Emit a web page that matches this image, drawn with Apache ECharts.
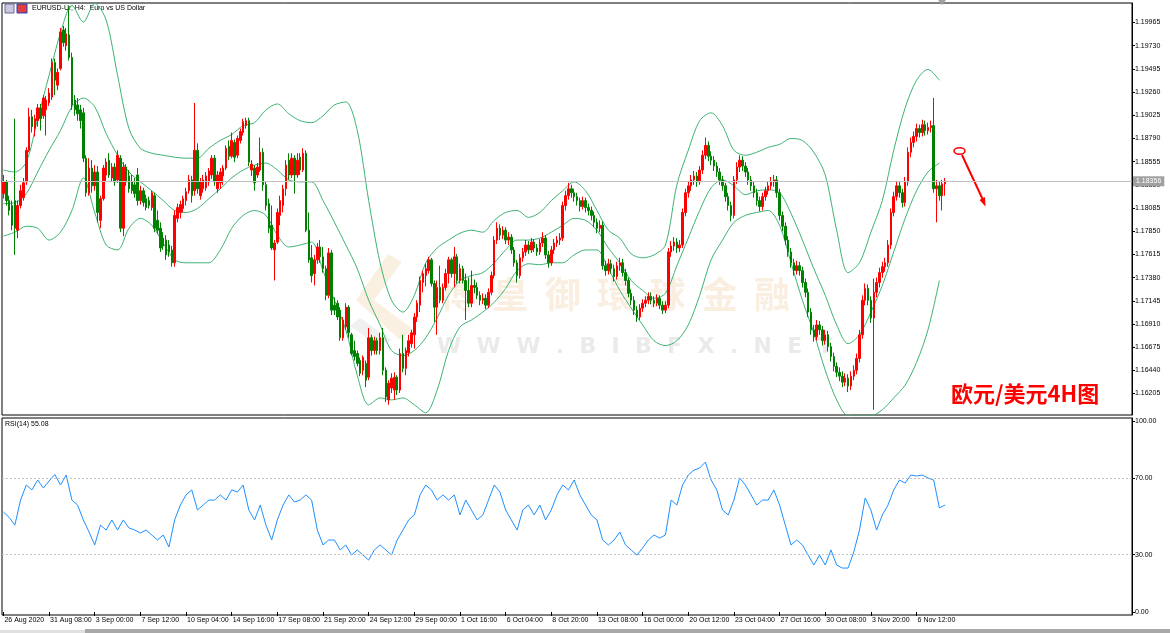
<!DOCTYPE html>
<html><head><meta charset="utf-8">
<script src="https://cdn.jsdelivr.net/npm/echarts@6/dist/echarts.min.js"></script>
<style>html,body{margin:0;padding:0;background:#fff}#c{width:1170px;height:633px}</style>
</head><body><div id="c"></div>
<script>
const timeLabels = ["26 Aug 2020","31 Aug 08:00","3 Sep 00:00","7 Sep 12:00","10 Sep 04:00","14 Sep 16:00","17 Sep 08:00","21 Sep 20:00","24 Sep 12:00","29 Sep 00:00","1 Oct 16:00","6 Oct 04:00","8 Oct 20:00","13 Oct 08:00","16 Oct 00:00","20 Oct 12:00","23 Oct 04:00","27 Oct 16:00","30 Oct 08:00","3 Nov 20:00","6 Nov 12:00"];
const priceTicks = [1.16205,1.16440,1.16675,1.16910,1.17145,1.17380,1.17615,1.17850,1.18085,1.18320,1.18555,1.18790,1.19025,1.19260,1.19495,1.19730,1.19965];
const rsiTicks = [0,30,70,100];
const rsiLevels = [30,70];
const lastPrice = 1.18356;
const rsiLast = "55.08";

// [open, close, low, high]
const candles = [
[1.1823,1.1835,1.1818,1.1842],[1.1835,1.1816,1.1811,1.1837],[1.1816,1.1806,1.1801,1.1821],[1.1811,1.1791,1.1786,1.1816],[1.1816,1.1788,1.1761,1.1899],
[1.1786,1.1811,1.1778,1.1816],[1.1811,1.1826,1.1808,1.1832],[1.1819,1.1834,1.1816,1.1839],[1.1835,1.1867,1.1832,1.1870],[1.1867,1.1901,1.1865,1.1910],
[1.1901,1.1891,1.1885,1.1908],[1.1889,1.1899,1.1881,1.1903],[1.1897,1.1910,1.1891,1.1914],[1.1910,1.1899,1.1887,1.1914],[1.1902,1.1920,1.1899,1.1923],
[1.1908,1.1918,1.1882,1.1922],[1.1915,1.1925,1.1912,1.1930],[1.1921,1.1956,1.1918,1.1960],[1.1956,1.1938,1.1923,1.1960],[1.1933,1.1946,1.1928,1.1950],
[1.1950,1.1987,1.1948,1.1991],[1.1989,1.1976,1.1972,1.1993],[1.1973,1.1985,1.1968,1.1991],[1.1984,1.1961,1.1958,1.2013],[1.1961,1.1913,1.1908,1.1966],
[1.1918,1.1908,1.1902,1.1923],[1.1913,1.1904,1.1897,1.1920],[1.1908,1.1897,1.1889,1.1913],[1.1905,1.1859,1.1855,1.1910],[1.1859,1.1824,1.1820,1.1862],
[1.1824,1.1849,1.1821,1.1859],[1.1849,1.1831,1.1824,1.1857],[1.1831,1.1845,1.1826,1.1852],
[1.1845,1.1804,1.1794,1.1851],[1.1796,1.1818,1.1788,1.1821],[1.1818,1.1849,1.1816,1.1852],[1.1842,1.1855,1.1835,1.1859],[1.1857,1.1842,1.1839,1.1864],
[1.1839,1.1850,1.1835,1.1854],[1.1850,1.1835,1.1831,1.1854],[1.1837,1.1862,1.1834,1.1867],[1.1859,1.1788,1.1784,1.1862],[1.1788,1.1850,1.1780,1.1855],
[1.1850,1.1835,1.1831,1.1853],[1.1841,1.1828,1.1824,1.1847],[1.1835,1.1826,1.1823,1.1842],[1.1832,1.1823,1.1819,1.1839],[1.1842,1.1816,1.1811,1.1849],
[1.1816,1.1826,1.1812,1.1831],[1.1826,1.1814,1.1810,1.1829],[1.1818,1.1809,1.1806,1.1822],[1.1816,1.1811,1.1808,1.1820],[1.1809,1.1824,1.1806,1.1826],
[1.1821,1.1788,1.1784,1.1824],[1.1796,1.1786,1.1782,1.1806],[1.1788,1.1768,1.1764,1.1794],[1.1778,1.1770,1.1766,1.1784],[1.1776,1.1761,1.1756,1.1781],
[1.1771,1.1764,1.1759,1.1776],[1.1766,1.1753,1.1749,1.1770],[1.1753,1.1801,1.1749,1.1806],[1.1798,1.1809,1.1794,1.1813],[1.1804,1.1812,1.1798,1.1816],
[1.1808,1.1818,1.1804,1.1821],[1.1816,1.1825,1.1811,1.1829],[1.1826,1.1837,1.1823,1.1842],
[1.1837,1.1821,1.1814,1.1841],[1.1826,1.1867,1.1821,1.1915],[1.1867,1.1828,1.1823,1.1874],[1.1821,1.1835,1.1817,1.1839],[1.1828,1.1837,1.1824,1.1842],
[1.1829,1.1841,1.1826,1.1845],[1.1835,1.1846,1.1831,1.1849],[1.1842,1.1859,1.1838,1.1862],[1.1859,1.1835,1.1831,1.1862],[1.1828,1.1842,1.1824,1.1846],
[1.1834,1.1845,1.1828,1.1849],[1.1841,1.1849,1.1832,1.1852],[1.1849,1.1869,1.1847,1.1872],[1.1871,1.1861,1.1857,1.1877],[1.1861,1.1877,1.1859,1.1885],
[1.1875,1.1860,1.1855,1.1878],[1.1862,1.1879,1.1859,1.1882],[1.1877,1.1886,1.1874,1.1889],[1.1885,1.1896,1.1882,1.1899],[1.1892,1.1897,1.1889,1.1900],
[1.1897,1.1855,1.1851,1.1900],[1.1847,1.1853,1.1841,1.1857],[1.1849,1.1834,1.1826,1.1852],[1.1842,1.1850,1.1839,1.1854],[1.1847,1.1865,1.1845,1.1880],
[1.1865,1.1832,1.1826,1.1869],[1.1832,1.1811,1.1806,1.1835],[1.1813,1.1788,1.1783,1.1818],[1.1791,1.1768,1.1766,1.1811],[1.1766,1.1773,1.1735,1.1776],
[1.1774,1.1804,1.1772,1.1808],[1.1801,1.1816,1.1791,1.1821],[1.1811,1.1828,1.1804,1.1832],
[1.1828,1.1852,1.1821,1.1857],[1.1857,1.1842,1.1837,1.1864],[1.1842,1.1859,1.1839,1.1864],[1.1859,1.1842,1.1823,1.1862],[1.1842,1.1857,1.1839,1.1864],
[1.1860,1.1847,1.1842,1.1864],[1.1847,1.1864,1.1845,1.1869],[1.1864,1.1786,1.1784,1.1867],[1.1786,1.1756,1.1753,1.1804],[1.1758,1.1740,1.1733,1.1771],
[1.1742,1.1756,1.1730,1.1761],[1.1756,1.1769,1.1752,1.1773],[1.1769,1.1759,1.1753,1.1776],[1.1759,1.1747,1.1743,1.1769],[1.1747,1.1720,1.1715,1.1750],
[1.1720,1.1763,1.1717,1.1768],[1.1763,1.1705,1.1700,1.1766],[1.1710,1.1705,1.1700,1.1718],[1.1712,1.1698,1.1695,1.1715],[1.1705,1.1677,1.1674,1.1708],
[1.1677,1.1695,1.1674,1.1698],[1.1688,1.1708,1.1685,1.1712],[1.1708,1.1682,1.1677,1.1710],[1.1680,1.1661,1.1659,1.1682],[1.1664,1.1658,1.1654,1.1674],
[1.1661,1.1651,1.1648,1.1664],[1.1654,1.1641,1.1638,1.1657],[1.1644,1.1657,1.1639,1.1659],[1.1651,1.1634,1.1627,1.1654],[1.1637,1.1677,1.1634,1.1687],
[1.1677,1.1664,1.1659,1.1680],[1.1664,1.1674,1.1660,1.1678],[1.1674,1.1664,1.1660,1.1677],
[1.1664,1.1677,1.1660,1.1682],[1.1677,1.1644,1.1639,1.1687],[1.1644,1.1617,1.1612,1.1647],[1.1614,1.1631,1.1609,1.1634],[1.1626,1.1636,1.1621,1.1641],
[1.1624,1.1637,1.1614,1.1642],[1.1637,1.1624,1.1619,1.1639],[1.1624,1.1661,1.1621,1.1666],[1.1661,1.1646,1.1642,1.1680],[1.1646,1.1664,1.1639,1.1667],
[1.1662,1.1674,1.1658,1.1680],[1.1671,1.1682,1.1667,1.1685],[1.1680,1.1698,1.1666,1.1702],[1.1698,1.1712,1.1693,1.1715],[1.1710,1.1735,1.1703,1.1739],
[1.1733,1.1742,1.1723,1.1745],[1.1740,1.1747,1.1729,1.1752],[1.1745,1.1756,1.1742,1.1759],[1.1756,1.1732,1.1729,1.1758],[1.1732,1.1708,1.1693,1.1735],
[1.1708,1.1728,1.1680,1.1735],[1.1728,1.1715,1.1712,1.1750],[1.1715,1.1728,1.1712,1.1732],[1.1728,1.1742,1.1725,1.1747],[1.1742,1.1756,1.1732,1.1759],
[1.1756,1.1742,1.1738,1.1758],[1.1742,1.1759,1.1728,1.1769],[1.1759,1.1735,1.1732,1.1762],[1.1735,1.1747,1.1732,1.1752],[1.1747,1.1735,1.1732,1.1750],
[1.1735,1.1725,1.1695,1.1742],[1.1725,1.1712,1.1708,1.1738],[1.1712,1.1730,1.1708,1.1745],
[1.1730,1.1728,1.1722,1.1736],[1.1728,1.1720,1.1716,1.1733],[1.1720,1.1715,1.1710,1.1724],[1.1715,1.1717,1.1711,1.1722],[1.1717,1.1710,1.1706,1.1721],
[1.1710,1.1723,1.1707,1.1727],[1.1723,1.1740,1.1720,1.1744],[1.1740,1.1776,1.1737,1.1780],[1.1776,1.1788,1.1772,1.1794],[1.1788,1.1781,1.1776,1.1792],
[1.1781,1.1786,1.1777,1.1790],[1.1786,1.1776,1.1772,1.1789],[1.1776,1.1779,1.1771,1.1784],[1.1779,1.1766,1.1762,1.1782],[1.1766,1.1753,1.1749,1.1769],
[1.1753,1.1740,1.1733,1.1756],[1.1740,1.1758,1.1737,1.1762],[1.1758,1.1764,1.1754,1.1768],[1.1764,1.1771,1.1760,1.1776],[1.1771,1.1766,1.1762,1.1775],
[1.1766,1.1774,1.1763,1.1778],[1.1774,1.1768,1.1764,1.1777],[1.1768,1.1764,1.1760,1.1772],[1.1764,1.1773,1.1761,1.1777],[1.1773,1.1778,1.1769,1.1784],
[1.1778,1.1761,1.1757,1.1781],[1.1761,1.1753,1.1748,1.1765],[1.1753,1.1766,1.1750,1.1770],[1.1766,1.1773,1.1762,1.1777],[1.1773,1.1776,1.1769,1.1780],
[1.1776,1.1778,1.1771,1.1783],[1.1778,1.1811,1.1775,1.1815],[1.1811,1.1821,1.1806,1.1826],[1.1821,1.1828,1.1817,1.1834],[1.1828,1.1824,1.1819,1.1832],
[1.1824,1.1820,1.1815,1.1828],[1.1820,1.1816,1.1811,1.1824],[1.1816,1.1810,1.1805,1.1819],[1.1810,1.1816,1.1807,1.1820],[1.1816,1.1809,1.1804,1.1819],
[1.1809,1.1806,1.1801,1.1813],[1.1806,1.1801,1.1796,1.1810],[1.1801,1.1794,1.1789,1.1805],[1.1794,1.1788,1.1783,1.1798],[1.1788,1.1791,1.1784,1.1796],
[1.1791,1.1750,1.1746,1.1795],[1.1750,1.1745,1.1740,1.1755],[1.1745,1.1752,1.1741,1.1757],[1.1752,1.1747,1.1742,1.1756],[1.1747,1.1739,1.1734,1.1751],
[1.1739,1.1750,1.1736,1.1754],[1.1750,1.1753,1.1745,1.1758],[1.1753,1.1743,1.1739,1.1757],[1.1743,1.1735,1.1730,1.1747],[1.1735,1.1722,1.1718,1.1738],
[1.1722,1.1715,1.1710,1.1726],[1.1715,1.1705,1.1700,1.1719],[1.1705,1.1698,1.1693,1.1709],[1.1698,1.1707,1.1695,1.1711],[1.1707,1.1712,1.1703,1.1716],
[1.1712,1.1715,1.1708,1.1719],[1.1715,1.1719,1.1711,1.1723],[1.1719,1.1715,1.1711,1.1723],[1.1715,1.1712,1.1708,1.1719],[1.1712,1.1717,1.1709,1.1721],
[1.1717,1.1710,1.1706,1.1720],[1.1710,1.1705,1.1701,1.1714],[1.1705,1.1710,1.1702,1.1714],[1.1710,1.1764,1.1707,1.1768],[1.1764,1.1770,1.1759,1.1775],
[1.1770,1.1774,1.1765,1.1779],[1.1774,1.1768,1.1763,1.1778],[1.1768,1.1771,1.1764,1.1776],[1.1771,1.1804,1.1768,1.1808],[1.1804,1.1824,1.1800,1.1828],
[1.1824,1.1831,1.1819,1.1836],[1.1831,1.1837,1.1826,1.1842],[1.1837,1.1841,1.1832,1.1846],[1.1841,1.1835,1.1830,1.1845],[1.1835,1.1847,1.1832,1.1851],
[1.1847,1.1862,1.1843,1.1867],[1.1862,1.1872,1.1858,1.1880],[1.1872,1.1861,1.1856,1.1876],[1.1861,1.1857,1.1852,1.1866],[1.1857,1.1851,1.1846,1.1861],
[1.1851,1.1845,1.1840,1.1855],[1.1845,1.1837,1.1832,1.1849],[1.1837,1.1831,1.1826,1.1841],[1.1831,1.1820,1.1815,1.1834],[1.1820,1.1811,1.1806,1.1824],
[1.1811,1.1801,1.1795,1.1815],[1.1801,1.1837,1.1798,1.1841],[1.1837,1.1850,1.1833,1.1855],[1.1850,1.1857,1.1845,1.1862],[1.1857,1.1851,1.1846,1.1861],
[1.1851,1.1845,1.1840,1.1855],[1.1845,1.1837,1.1832,1.1849],[1.1837,1.1831,1.1826,1.1841],[1.1831,1.1824,1.1819,1.1835],[1.1824,1.1816,1.1811,1.1828],
[1.1816,1.1810,1.1805,1.1820],[1.1810,1.1820,1.1806,1.1824],[1.1820,1.1826,1.1816,1.1830],[1.1826,1.1831,1.1822,1.1835],[1.1831,1.1835,1.1827,1.1840],
[1.1835,1.1837,1.1830,1.1842],[1.1837,1.1824,1.1819,1.1841],[1.1824,1.1801,1.1796,1.1828],[1.1801,1.1790,1.1785,1.1805],[1.1790,1.1776,1.1771,1.1794],
[1.1776,1.1764,1.1759,1.1780],[1.1764,1.1753,1.1748,1.1768],[1.1753,1.1745,1.1740,1.1757],[1.1745,1.1750,1.1741,1.1755],[1.1750,1.1745,1.1740,1.1754],
[1.1745,1.1733,1.1728,1.1749],[1.1733,1.1723,1.1718,1.1737],[1.1723,1.1703,1.1698,1.1727],[1.1703,1.1685,1.1680,1.1707],[1.1685,1.1678,1.1673,1.1690],
[1.1678,1.1690,1.1674,1.1695],[1.1690,1.1685,1.1680,1.1694],[1.1685,1.1674,1.1669,1.1689],[1.1674,1.1680,1.1670,1.1685],[1.1680,1.1668,1.1663,1.1684],
[1.1668,1.1658,1.1653,1.1672],[1.1658,1.1648,1.1643,1.1662],[1.1648,1.1642,1.1637,1.1652],[1.1642,1.1638,1.1633,1.1647],[1.1638,1.1632,1.1627,1.1643],
[1.1632,1.1636,1.1628,1.1641],[1.1636,1.1628,1.1622,1.1640],[1.1628,1.1638,1.1624,1.1643],[1.1638,1.1644,1.1634,1.1649],[1.1644,1.1656,1.1640,1.1661],
[1.1656,1.1680,1.1652,1.1685],[1.1680,1.1715,1.1676,1.1720],[1.1715,1.1727,1.1710,1.1732],[1.1727,1.1715,1.1710,1.1731],[1.1715,1.1697,1.1692,1.1719],
[1.1697,1.1723,1.1604,1.1737],[1.1723,1.1733,1.1718,1.1738],[1.1733,1.1743,1.1728,1.1748],[1.1743,1.1749,1.1738,1.1754],[1.1749,1.1753,1.1744,1.1758],
[1.1753,1.1771,1.1749,1.1776],[1.1771,1.1804,1.1767,1.1808],[1.1804,1.1820,1.1800,1.1825],[1.1820,1.1831,1.1816,1.1836],[1.1831,1.1824,1.1819,1.1835],
[1.1824,1.1814,1.1809,1.1828],[1.1814,1.1835,1.1810,1.1840],[1.1835,1.1865,1.1831,1.1870],[1.1865,1.1875,1.1860,1.1880],[1.1875,1.1881,1.1870,1.1886],
[1.1881,1.1889,1.1876,1.1894],[1.1889,1.1885,1.1880,1.1893],[1.1885,1.1893,1.1881,1.1898],[1.1893,1.1887,1.1882,1.1897],[1.1887,1.1890,1.1883,1.1895],
[1.1890,1.1892,1.1885,1.1897],[1.1892,1.1828,1.1824,1.1920],[1.1828,1.1831,1.1794,1.1837],[1.1831,1.1821,1.1816,1.1835],[1.1821,1.1833,1.1806,1.1837],
[1.1833,1.1836,1.1821,1.1839]
];

// Bollinger Bands (20, 2) read every 4 bars
const bbStep = 4;
const bbUpper = [1.1847,1.1845,1.1855,1.1899,1.1943,1.1986,1.2014,1.1997,1.2016,1.1999,
1.1943,1.1889,1.1869,1.1864,1.1862,1.1860,1.1859,1.1859,1.1869,1.1877,
1.1883,1.1892,1.1895,1.1908,1.1914,1.1904,1.1897,1.1895,1.1902,1.1913,
1.1916,1.1887,1.1816,1.1753,1.1715,1.1703,1.1720,1.1753,1.1768,1.1776,
1.1783,1.1786,1.1784,1.1796,1.1804,1.1806,1.1799,1.1804,1.1816,1.1826,
1.1835,1.1826,1.1806,1.1786,1.1778,1.1762,1.1758,1.1761,1.1771,1.1832,
1.1867,1.1897,1.1905,1.1892,1.1867,1.1862,1.1865,1.1870,1.1873,1.1879,
1.1877,1.1865,1.1842,1.1786,1.1743,1.1753,1.1784,1.1816,1.1867,1.1910,
1.1938,1.1949,1.1938];
const bbMiddle = [1.1813,1.1814,1.1823,1.1845,1.1867,1.1887,1.1911,1.1920,1.1911,1.1884,
1.1862,1.1845,1.1835,1.1826,1.1816,1.1806,1.1804,1.1808,1.1818,1.1828,
1.1839,1.1847,1.1852,1.1854,1.1847,1.1837,1.1835,1.1835,1.1816,1.1794,
1.1771,1.1747,1.1715,1.1690,1.1664,1.1659,1.1664,1.1677,1.1697,1.1720,
1.1735,1.1740,1.1743,1.1753,1.1766,1.1776,1.1776,1.1778,1.1784,1.1791,
1.1798,1.1796,1.1786,1.1768,1.1753,1.1735,1.1725,1.1717,1.1722,1.1750,
1.1778,1.1806,1.1829,1.1837,1.1831,1.1822,1.1826,1.1827,1.1824,1.1803,
1.1776,1.1747,1.1720,1.1690,1.1671,1.1680,1.1703,1.1730,1.1764,1.1798,
1.1826,1.1845,1.1854];
const bbLower = [1.1780,1.1784,1.1790,1.1788,1.1776,1.1784,1.1806,1.1839,1.1804,1.1771,
1.1766,1.1788,1.1798,1.1791,1.1773,1.1756,1.1753,1.1753,1.1753,1.1766,
1.1788,1.1801,1.1806,1.1801,1.1781,1.1769,1.1771,1.1774,1.1745,1.1715,
1.1685,1.1639,1.1609,1.1616,1.1614,1.1616,1.1609,1.1601,1.1624,1.1664,
1.1688,1.1695,1.1703,1.1713,1.1727,1.1745,1.1752,1.1751,1.1753,1.1753,
1.1761,1.1766,1.1766,1.1747,1.1725,1.1707,1.1690,1.1674,1.1669,1.1674,
1.1690,1.1720,1.1756,1.1776,1.1794,1.1801,1.1804,1.1806,1.1791,1.1753,
1.1715,1.1682,1.1644,1.1614,1.1598,1.1598,1.1598,1.1604,1.1616,1.1629,
1.1652,1.1685,1.1735];

// RSI(14) read every 2 bars
const rsiStep = 2;
const rsi14 = [52.4,49.5,45.5,58.6,66.5,63.9,69.1,64.9,68.6,72.0,
66.5,71.7,58.6,56.0,48.2,41.9,35.1,45.5,42.9,48.2,
42.9,48.2,44.0,42.9,41.4,42.9,40.3,37.7,40.3,34.0,
48.2,56.0,61.3,63.9,53.4,56.0,58.6,58.6,61.3,58.6,
63.9,62.8,66.5,53.4,48.2,56.0,45.5,37.7,48.2,56.0,
61.3,57.6,58.6,61.3,58.6,42.9,35.1,37.7,37.7,32.5,
35.1,29.8,32.5,29.8,27.2,32.5,35.1,32.5,29.8,37.7,
42.9,48.2,50.8,61.3,66.5,63.9,58.6,61.3,58.6,61.3,
50.8,58.6,53.4,48.2,50.8,58.6,66.5,62.8,53.4,48.2,
42.9,53.4,56.0,50.8,56.0,48.2,53.4,61.3,66.5,63.9,
69.1,61.3,56.0,50.8,48.2,37.7,35.1,37.7,41.9,35.1,
32.5,29.8,33.5,37.7,40.3,38.7,40.3,58.6,56.0,66.5,
71.7,74.3,75.4,78.5,69.1,63.9,53.4,50.8,58.6,70.2,
66.5,61.3,56.0,58.6,58.6,63.9,56.0,45.5,35.1,37.7,
35.1,29.8,24.6,29.8,24.6,32.5,24.6,23.0,23.0,31.4,
42.9,59.7,53.4,42.9,50.8,56.0,63.9,69.1,67.5,71.7,
71.2,71.7,70.2,69.1,54.5,56.0];

const totalSlots = 396;   // bars + empty right shift
const labelEvery = 16;

const cats = Array.from({length: totalSlots}, (_, i) => String(i));
function spread(vals, step) {
  const a = new Array(totalSlots).fill(null);
  vals.forEach((v, k) => { a[k * step] = v; });
  return a;
}
const tickShown = (idx) => idx % labelEvery === 0 && idx / labelEvery < timeLabels.length;

const chart = echarts.init(document.getElementById('c'), null, {renderer: 'canvas'});
const axisFont = {fontFamily: 'Liberation Sans', fontSize: 7, color: '#000'};
const bandStyle = {color: '#3cb371', width: 1};

chart.setOption({
  animation: false,
  backgroundColor: '#ffffff',
  grid: [
    {left: 2, top: 3, width: 1130, height: 412, show: true, borderColor: '#000', borderWidth: 1, backgroundColor: 'transparent'},
    {left: 2, top: 418, width: 1130, height: 197, show: true, borderColor: '#000', borderWidth: 1, backgroundColor: 'transparent'}
  ],
  xAxis: [
    {type: 'category', gridIndex: 0, data: cats, boundaryGap: true, show: false},
    {type: 'category', gridIndex: 1, data: cats, boundaryGap: true,
      axisLine: {show: false},
      axisTick: {show: true, interval: (i) => tickShown(i), alignWithLabel: true, length: 4, lineStyle: {color: '#000'}},
      axisLabel: Object.assign({interval: (i) => tickShown(i), align: 'left', margin: 2, padding: [0,0,0,1],
        formatter: (v) => timeLabels[Number(v) / labelEvery]}, axisFont),
      splitLine: {show: false}}
  ],
  yAxis: [
    {type: 'value', gridIndex: 0, position: 'right', min: 1.15987, max: 1.20163,
      splitLine: {show: false},
      axisLine: {show: true, lineStyle: {color: '#000'}},
      axisTick: {show: true, customValues: priceTicks, length: 3, lineStyle: {color: '#000'}},
      axisLabel: Object.assign({customValues: priceTicks, margin: 3, formatter: (v) => v.toFixed(5)}, axisFont)},
    {type: 'value', gridIndex: 1, position: 'right', min: -1.57, max: 101.57,
      splitLine: {show: false},
      axisLine: {show: true, lineStyle: {color: '#000'}},
      axisTick: {show: true, customValues: rsiTicks, length: 3, lineStyle: {color: '#000'}},
      axisLabel: Object.assign({customValues: rsiTicks, margin: 3, formatter: (v) => v.toFixed(2)}, axisFont)}
  ],
  series: [
    {type: 'line', xAxisIndex: 0, yAxisIndex: 0, data: spread(bbUpper, bbStep), connectNulls: true, showSymbol: false, smooth: 0.3, lineStyle: bandStyle, silent: true, z: 1},
    {type: 'line', xAxisIndex: 0, yAxisIndex: 0, data: spread(bbMiddle, bbStep), connectNulls: true, showSymbol: false, smooth: 0.3, lineStyle: bandStyle, silent: true, z: 1,
      markLine: {silent: true, symbol: 'none', animation: false, precision: 5,
        lineStyle: {color: '#c0c0c0', type: 'solid', width: 1},
        label: {show: true, position: 'end', distance: 1, formatter: () => lastPrice.toFixed(5),
          backgroundColor: '#a0a0a0', color: '#ffffff', fontFamily: 'Liberation Sans', fontSize: 7, padding: [2, 3, 1, 3]},
        data: [{yAxis: lastPrice}]}},
    {type: 'line', xAxisIndex: 0, yAxisIndex: 0, data: spread(bbLower, bbStep), connectNulls: true, showSymbol: false, smooth: 0.3, lineStyle: bandStyle, silent: true, z: 1},
    {type: 'candlestick', xAxisIndex: 0, yAxisIndex: 0, data: candles, barWidth: 2, z: 3,
      itemStyle: {color: '#ff0000', color0: '#008000', borderColor: '#ff0000', borderColor0: '#008000', borderWidth: 1}},
    {type: 'line', xAxisIndex: 1, yAxisIndex: 1, data: spread(rsi14, rsiStep), connectNulls: true, showSymbol: false,
      lineStyle: {color: '#1e90ff', width: 1}, silent: true,
      markLine: {silent: true, symbol: 'none', animation: false, precision: 2, label: {show: false},
        lineStyle: {color: '#c0c0c0', type: [2, 2], width: 1},
        data: rsiLevels.map((v) => ({yAxis: v}))}}
  ],
  graphic: [
    // watermark (logo, Chinese name, web address)
    {type: 'polygon', silent: true, z: 0, shape: {points: [[388, 254], [402, 262], [374, 300], [414, 330], [400, 340], [356, 300]]},
      style: {fill: 'rgba(236,200,150,0.28)'}},
    {type: 'polygon', silent: true, z: 0, shape: {points: [[360, 318], [392, 340], [378, 346], [350, 326]]},
      style: {fill: 'rgba(200,200,200,0.28)'}},
    {type: 'text', left: 440, top: 276, silent: true, z: 0,
      style: {text: '博  皇  御  環  球  金  融', fill: 'rgba(236,205,165,0.34)', font: 'bold 36px "Noto Sans CJK TC"'}},
    {type: 'text', left: 437, top: 336, silent: true, z: 0,
      style: {text: 'W  W  W  .  B  I  B  F  X  .  N  E  T', fill: 'rgba(190,190,190,0.32)', font: 'bold 22px "DejaVu Sans"'}},
    // title icons
    {type: 'rect', shape: {x: 5, y: 4, width: 9, height: 9}, style: {fill: '#c8c8e0', stroke: '#6a6a9a', lineWidth: 1}},
    {type: 'rect', shape: {x: 17, y: 4, width: 10, height: 9}, style: {fill: '#e04040', stroke: '#2040c0', lineWidth: 1}},
    {type: 'text', left: 32, top: 5, style: {text: 'EURUSD-Ur, H4:  Euro vs US Dollar', fill: '#000', font: '7px "Liberation Sans"'}},
    {type: 'text', left: 5, top: 421, style: {text: 'RSI(14) ' + rsiLast, fill: '#000', font: '7px "Liberation Sans"'}},
    // shift marker
    {type: 'polygon', shape: {points: [[938, 0], [946, 0], [942, 5]]}, style: {fill: '#a0a0a0'}},
    // red annotation arrow
    {type: 'ellipse', shape: {cx: 959.5, cy: 151, rx: 5.5, ry: 3.2}, style: {fill: 'none', stroke: '#ff0000', lineWidth: 1.5}},
    {type: 'line', shape: {x1: 962, y1: 155, x2: 983.5, y2: 201}, style: {stroke: '#ff0000', lineWidth: 2}},
    {type: 'polygon', shape: {points: [[985.5, 206.5], [985, 197], [979.5, 200]]}, style: {fill: '#ff0000'}},
    {type: 'text', left: 951, top: 383, style: {text: '欧元/美元4H图', fill: '#ff0000', font: 'bold 22px "Noto Sans CJK SC"',
      shadowColor: '#000060', shadowOffsetX: 1, shadowOffsetY: 1, shadowBlur: 0}},
    // bottom scrollbar strip
    {type: 'rect', shape: {x: 0, y: 630, width: 85, height: 3}, style: {fill: '#e0e0e0'}},
    {type: 'rect', shape: {x: 85, y: 629, width: 1085, height: 4}, style: {fill: '#a8a8a8'}}
  ]
});
</script>
</body></html>
